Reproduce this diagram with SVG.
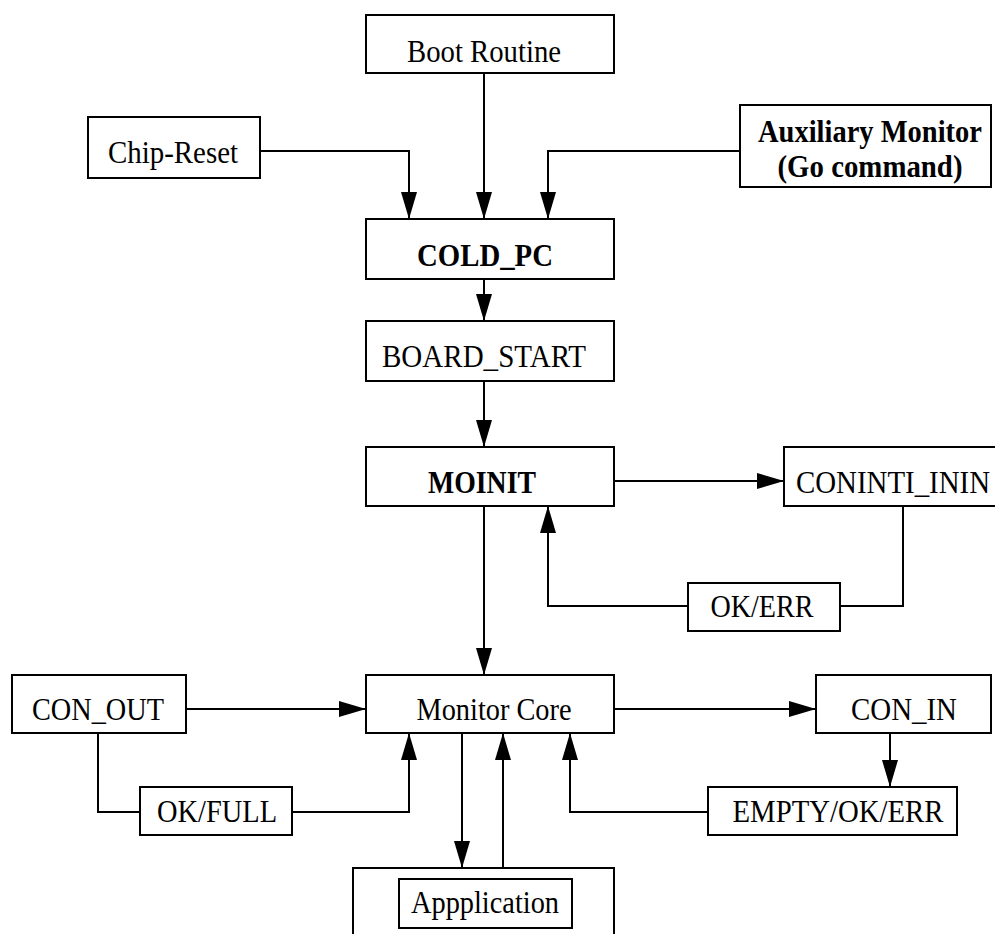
<svg xmlns="http://www.w3.org/2000/svg" width="995" height="934" viewBox="0 0 995 934">
  <style>
    .box { fill: #fff; stroke: #000; stroke-width: 2; }
    .lbl { font-family: "Liberation Serif", "Times New Roman", serif; font-size: 31px; fill: #000; text-anchor: middle; }
    .b { font-weight: bold; }
    .wire { fill: none; stroke: #000; stroke-width: 2; }
  </style>
  <defs>
    <marker id="arrow" markerUnits="userSpaceOnUse" markerWidth="27" markerHeight="16" refX="27" refY="8" orient="auto">
      <path d="M0,0 L27,8 L0,16 z" fill="#000"/>
    </marker>
  </defs>
  <rect width="995" height="934" fill="#fff"/>

  <g id="connectors">
    <!-- inputs into COLD_PC -->
    <polyline class="wire" points="260,151 409,151 409,219" marker-end="url(#arrow)"/>
    <polyline class="wire" points="484,73 484,219" marker-end="url(#arrow)"/>
    <polyline class="wire" points="740,151 548,151 548,219" marker-end="url(#arrow)"/>
    <!-- start-up chain -->
    <polyline class="wire" points="484,279 484,321" marker-end="url(#arrow)"/>
    <polyline class="wire" points="484,381 484,447" marker-end="url(#arrow)"/>
    <polyline class="wire" points="614,481 784,481" marker-end="url(#arrow)"/>
    <!-- console init return -->
    <polyline class="wire" points="903,506 903,606 840,606"/>
    <polyline class="wire" points="688,606 548,606 548,506" marker-end="url(#arrow)"/>
    <polyline class="wire" points="484,506 484,675" marker-end="url(#arrow)"/>
    <!-- console output -->
    <polyline class="wire" points="186,709 366,709" marker-end="url(#arrow)"/>
    <polyline class="wire" points="98,733 98,812 140,812"/>
    <polyline class="wire" points="292,812 409,812 409,733" marker-end="url(#arrow)"/>
    <!-- console input -->
    <polyline class="wire" points="614,709 816,709" marker-end="url(#arrow)"/>
    <polyline class="wire" points="890,733 890,787" marker-end="url(#arrow)"/>
    <polyline class="wire" points="708,812 570,812 570,733" marker-end="url(#arrow)"/>
    <!-- application -->
    <polyline class="wire" points="462,733 462,868" marker-end="url(#arrow)"/>
    <polyline class="wire" points="503,868 503,733" marker-end="url(#arrow)"/>
  </g>

  <g id="boot-routine">
    <rect class="box" x="366" y="15" width="248" height="58"/>
    <text class="lbl" x="484" y="62" textLength="154" lengthAdjust="spacingAndGlyphs">Boot Routine</text>
  </g>
  <g id="chip-reset">
    <rect class="box" x="88" y="117" width="172" height="61"/>
    <text class="lbl" x="173" y="163" textLength="130" lengthAdjust="spacingAndGlyphs">Chip-Reset</text>
  </g>
  <g id="aux-monitor">
    <rect class="box" x="740" y="105" width="251" height="82"/>
    <text class="lbl b" x="870" y="142" textLength="224" lengthAdjust="spacingAndGlyphs">Auxiliary Monitor</text>
    <text class="lbl b" x="870" y="177" textLength="185" lengthAdjust="spacingAndGlyphs">(Go command)</text>
  </g>
  <g id="cold-pc">
    <rect class="box" x="366" y="219" width="248" height="60"/>
    <text class="lbl b" x="485" y="266" textLength="136" lengthAdjust="spacingAndGlyphs">COLD_PC</text>
  </g>
  <g id="board-start">
    <rect class="box" x="366" y="321" width="248" height="60"/>
    <text class="lbl" x="484" y="367" textLength="204" lengthAdjust="spacingAndGlyphs">BOARD_START</text>
  </g>
  <g id="moinit">
    <rect class="box" x="366" y="447" width="248" height="59"/>
    <text class="lbl b" x="482" y="493" textLength="108" lengthAdjust="spacingAndGlyphs">MOINIT</text>
  </g>
  <g id="coninti-inin">
    <rect class="box" x="784" y="447" width="230" height="59"/>
    <text class="lbl" x="893" y="493" textLength="194" lengthAdjust="spacingAndGlyphs">CONINTI_ININ</text>
  </g>
  <g id="ok-err">
    <rect class="box" x="688" y="583" width="152" height="48"/>
    <text class="lbl" x="762" y="617" textLength="103" lengthAdjust="spacingAndGlyphs">OK/ERR</text>
  </g>
  <g id="con-out">
    <rect class="box" x="12" y="675" width="174" height="58"/>
    <text class="lbl" x="98" y="720" textLength="132" lengthAdjust="spacingAndGlyphs">CON_OUT</text>
  </g>
  <g id="monitor-core">
    <rect class="box" x="366" y="675" width="248" height="58"/>
    <text class="lbl" x="494" y="720" textLength="155" lengthAdjust="spacingAndGlyphs">Monitor Core</text>
  </g>
  <g id="con-in">
    <rect class="box" x="816" y="675" width="175" height="58"/>
    <text class="lbl" x="904" y="720" textLength="106" lengthAdjust="spacingAndGlyphs">CON_IN</text>
  </g>
  <g id="ok-full">
    <rect class="box" x="140" y="787" width="152" height="48"/>
    <text class="lbl" x="217" y="822" textLength="120" lengthAdjust="spacingAndGlyphs">OK/FULL</text>
  </g>
  <g id="empty-ok-err">
    <rect class="box" x="708" y="787" width="249" height="48"/>
    <text class="lbl" x="838" y="822" textLength="211" lengthAdjust="spacingAndGlyphs">EMPTY/OK/ERR</text>
  </g>
  <g id="application">
    <rect class="box" x="353" y="868" width="261" height="80"/>
    <rect class="box" x="399" y="879" width="173" height="49"/>
    <text class="lbl" x="485" y="913" textLength="148" lengthAdjust="spacingAndGlyphs">Appplication</text>
  </g>
</svg>
